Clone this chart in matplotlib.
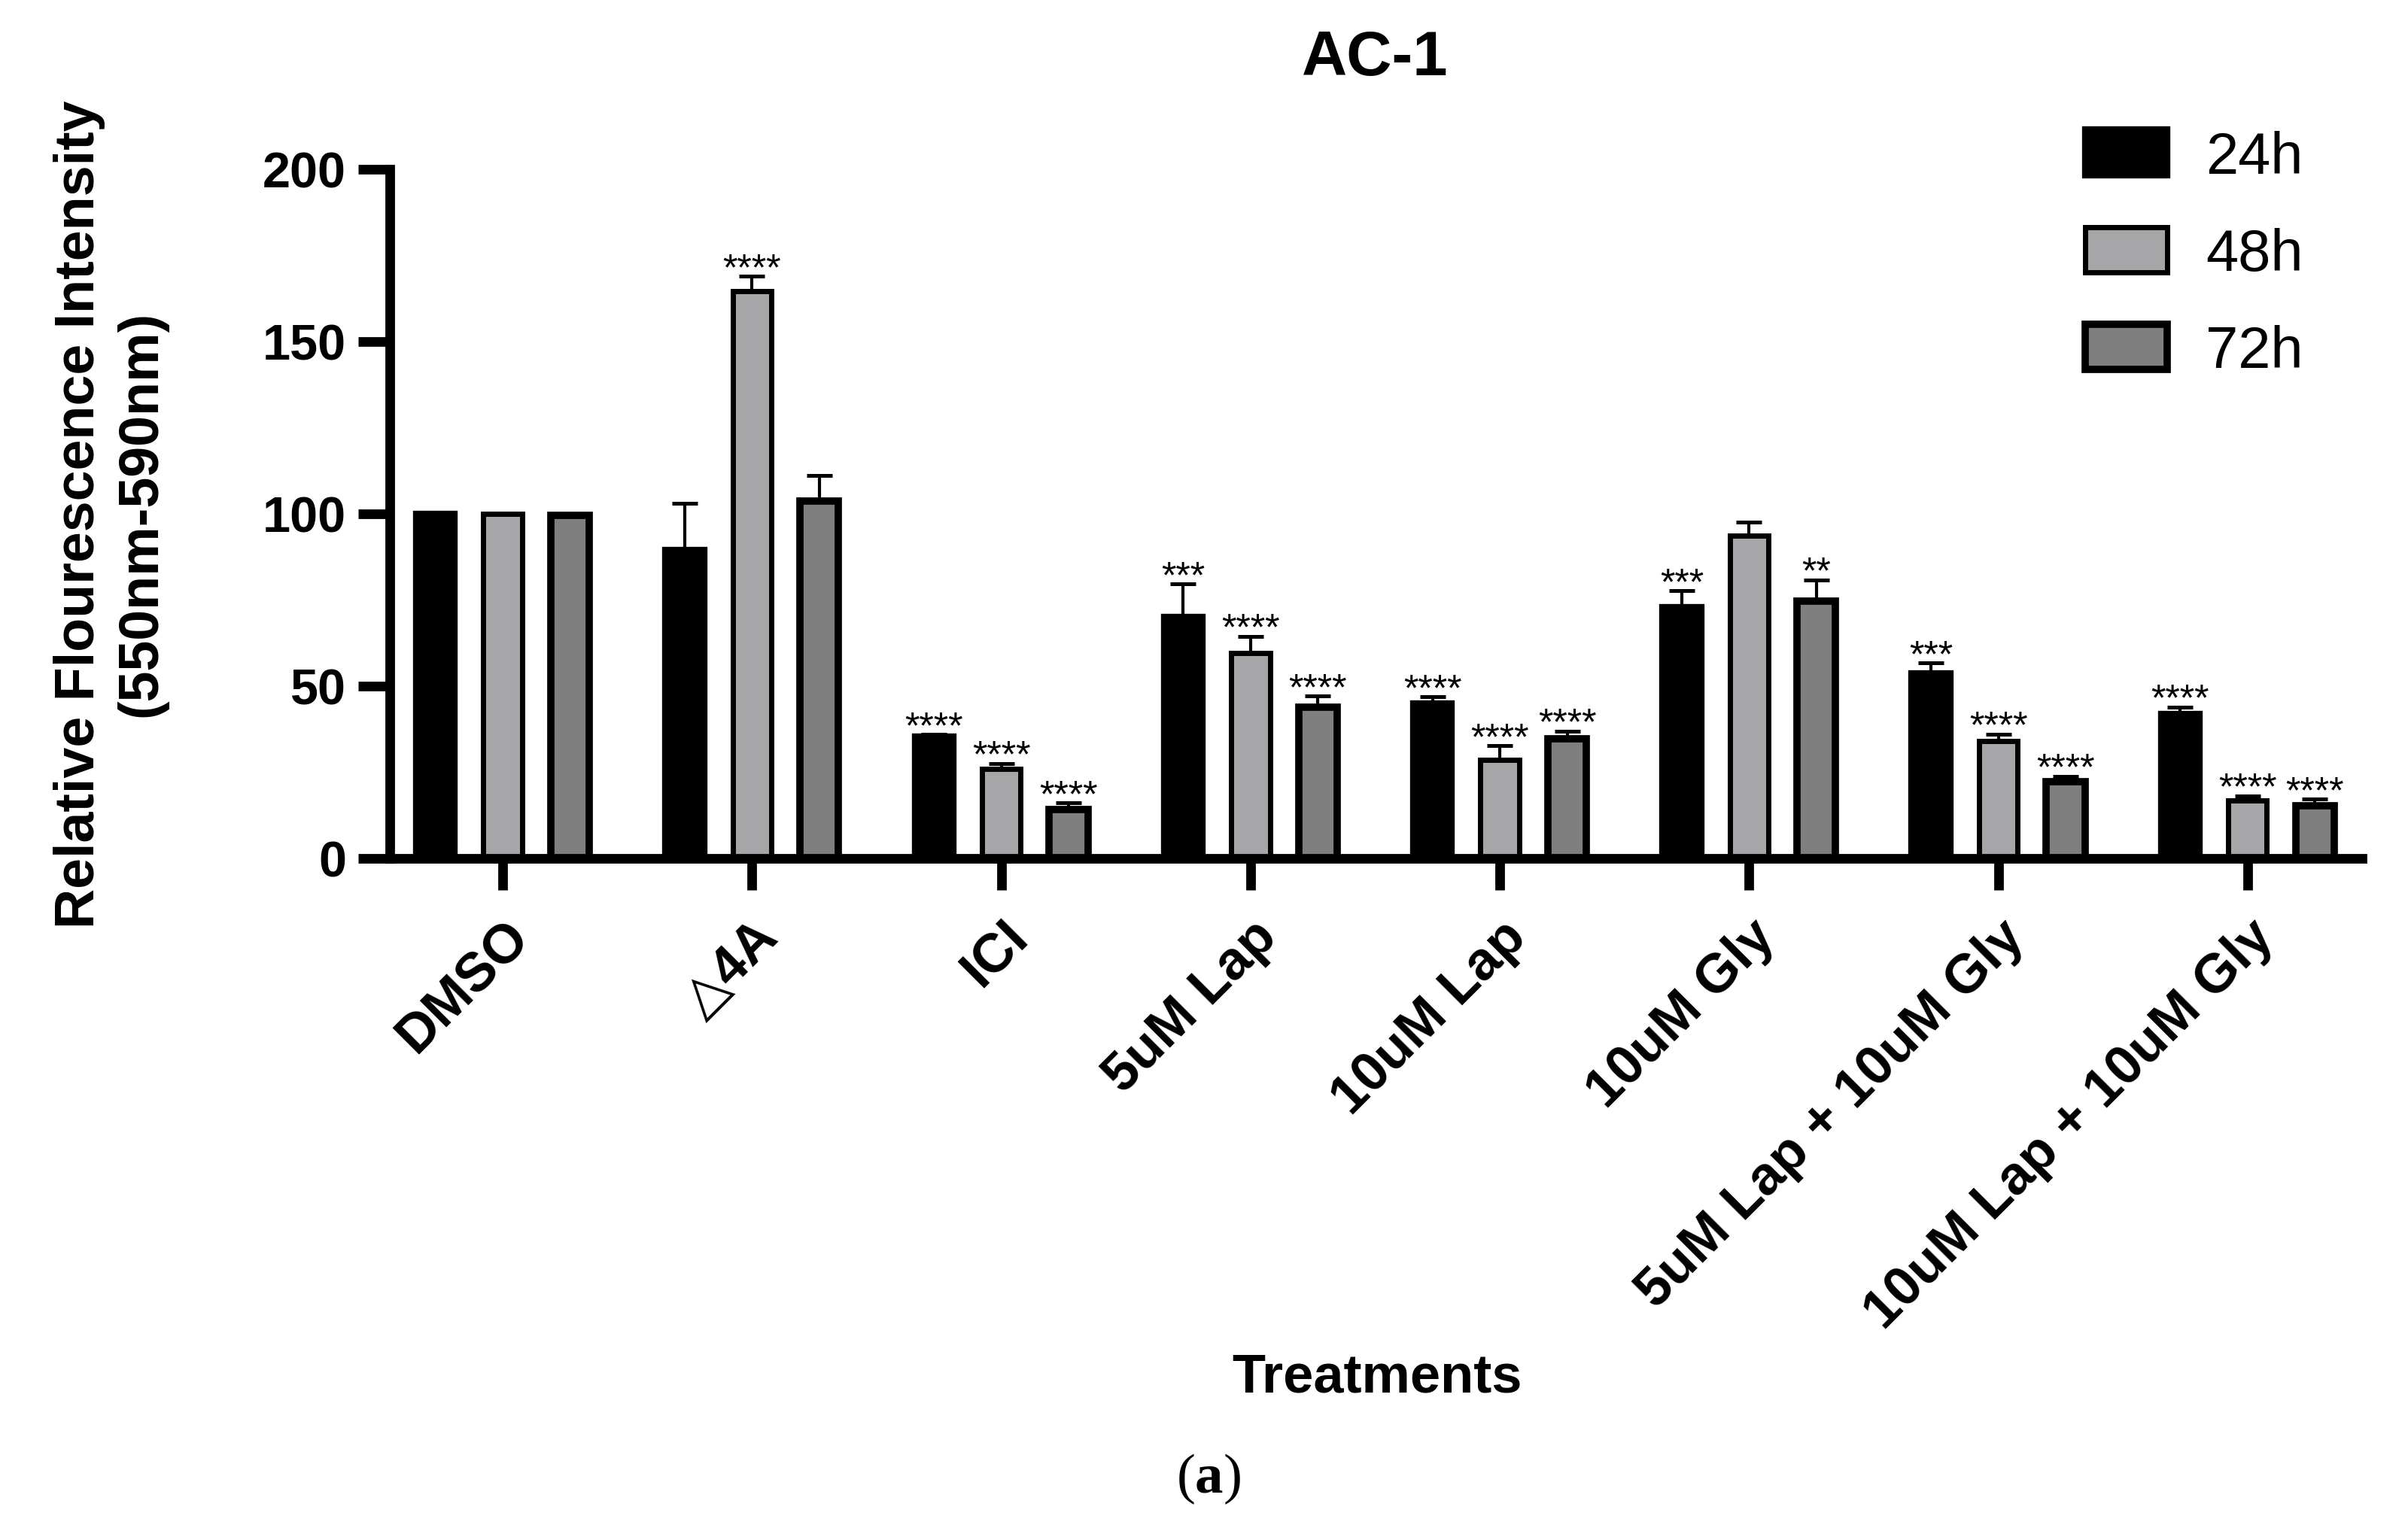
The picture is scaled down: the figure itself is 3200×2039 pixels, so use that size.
import numpy as np
import matplotlib.pyplot as plt
from matplotlib.patches import Patch

plt.rcParams['font.family'] = ['Liberation Sans', 'DejaVu Sans']
plt.rcParams['mathtext.fontset'] = 'custom'
plt.rcParams['mathtext.rm'] = 'Liberation Serif'
plt.rcParams['mathtext.bf'] = 'Liberation Serif:bold'

# data
treatments = ['DMSO', '\u25b34A', 'ICI', '5uM Lap', '10uM Lap', '10uM Gly',
              '5uM Lap + 10uM Gly', '10uM Lap + 10uM Gly']
times = ['24h', '48h', '72h']
vals_24h = [100, 89.5, 35.2, 70.0, 44.9, 72.9, 53.6, 41.8]
vals_48h = [100, 164.5, 26.0, 59.5, 28.6, 93.5, 34.0, 16.7]
vals_72h = [99.5, 103.6, 14.2, 43.8, 34.7, 74.5, 22.1, 15.2]
err_24h = [0, 13.4, 0.7, 9.5, 1.9, 4.7, 3.1, 2.1]
err_48h = [0, 4.4, 1.5, 4.9, 4.1, 4.0, 2.0, 1.4]
err_72h = [0, 7.4, 1.8, 3.2, 2.2, 6.3, 1.7, 1.9]
stars_24h = ['', '', '****', '***', '****', '***', '***', '****']
stars_48h = ['', '****', '****', '****', '****', '', '****', '****']
stars_72h = ['', '', '****', '****', '****', '**', '****', '****']

fills = ['#000000', '#a6a6a9', '#7f7f7f']
edge_w = [3.0, 2.5, 3.5]

fig = plt.figure(figsize=(16, 10.2), dpi=200)
ax = fig.add_axes([0.162, 0.4404, 0.981 - 0.162, 0.8894 - 0.4404])

x = np.arange(len(treatments))
offsets = [-0.27, 0, 0.27]
series = [(vals_24h, err_24h, stars_24h), (vals_48h, err_48h, stars_48h),
          (vals_72h, err_72h, stars_72h)]

for i, (vals, errs, stars) in enumerate(series):
    xs = x + offsets[i]
    ax.bar(xs, vals, width=0.155, color=fills[i], edgecolor='black',
           linewidth=edge_w[i], zorder=2)
    ax.errorbar(xs, vals, yerr=[np.zeros(len(errs)), errs], fmt='none',
                ecolor='black', elinewidth=1.5, capsize=6, capthick=1.8, zorder=1)
    for xi, v, e, s in zip(xs, vals, errs, stars):
        if s:
            ax.annotate(s, (xi, v + e), xytext=(0, -1.5), textcoords='offset points',
                        ha='center', va='baseline', fontsize=18)

ax.set_xlim(-0.452, 7.46)
ax.set_ylim(0, 200)
ax.set_yticks([0, 50, 100, 150, 200])
ax.set_xticks(x)
ax.set_xticklabels(treatments, rotation=45, ha='right', rotation_mode='anchor',
                   fontsize=26, fontweight='bold')
for lab in ax.get_yticklabels():
    lab.set_fontweight('bold')
ax.tick_params(axis='y', labelsize=24, length=15, width=4.6, pad=6)
ax.tick_params(axis='x', length=15, width=4.6, pad=10)
for side in ['top', 'right']:
    ax.spines[side].set_visible(False)
for side in ['left', 'bottom']:
    ax.spines[side].set_linewidth(4.6)

fig.text(0.0458, 0.665, 'Relative Flourescence Intensity\n(550nm-590nm)',
         rotation=90, ha='center', va='center', multialignment='center',
         fontsize=26.5, fontweight='bold', linespacing=1.25)
fig.text(0.571, 0.962, 'AC-1', ha='center', va='center', fontsize=30, fontweight='bold')
fig.text(0.572, 0.102, 'Treatments', ha='center', va='center', fontsize=26, fontweight='bold')
fig.text(0.502, 0.036, r'($\mathbf{a}$)', ha='center', va='center', fontsize=27,
         family=['Liberation Serif', 'DejaVu Serif'])

handles = [Patch(facecolor=fills[i], edgecolor='black', linewidth=edge_w[i]) for i in range(3)]
fig.legend(handles, times, loc='upper left', bbox_to_anchor=(0.866, 0.915),
           fontsize=28, frameon=False, handlelength=1.4, handleheight=0.82,
           handletextpad=0.66, labelspacing=0.72, borderpad=0, borderaxespad=0)

fig.savefig('out.png', dpi=200)
